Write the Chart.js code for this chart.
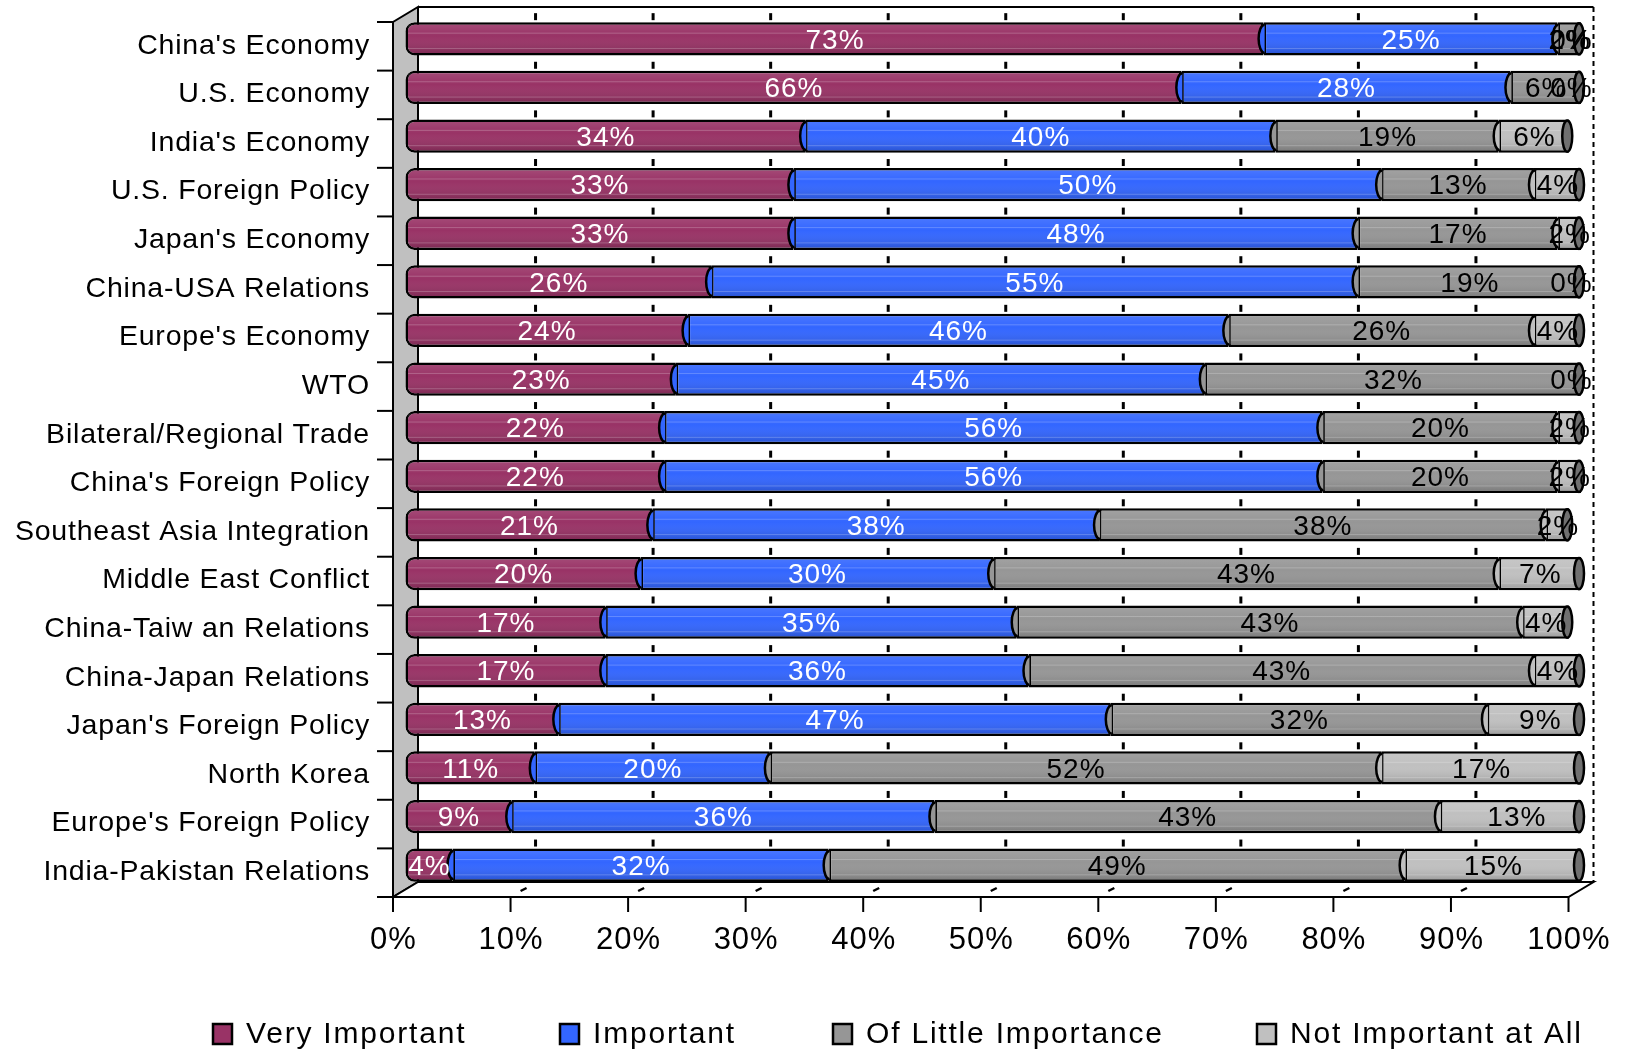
<!DOCTYPE html>
<html>
<head>
<meta charset="utf-8">
<title>Importance of issues</title>
<script src="https://cdn.jsdelivr.net/npm/chart.js@4.4.0/dist/chart.umd.min.js"></script>
<style>
    html, body { margin: 0; padding: 0; background: #fff; }
    #wrap { width: 1626px; height: 1050px; position: relative; }
</style>
</head>
<body>
<div id="wrap"><canvas id="myChart"></canvas></div>
<script>
var categories = [
    "China's Economy", "U.S. Economy", "India's Economy", "U.S. Foreign Policy",
    "Japan's Economy", "China-USA Relations", "Europe's Economy", "WTO",
    "Bilateral/Regional Trade", "China's Foreign Policy", "Southeast Asia Integration",
    "Middle East Conflict", "China-Taiw an Relations", "China-Japan Relations",
    "Japan's Foreign Policy", "North Korea", "Europe's Foreign Policy", "India-Pakistan Relations"
];
var veryImportant    = [73, 66, 34, 33, 33, 26, 24, 23, 22, 22, 21, 20, 17, 17, 13, 11, 9, 4];
var important        = [25, 28, 40, 50, 48, 55, 46, 45, 56, 56, 38, 30, 35, 36, 47, 20, 36, 32];
var littleImportance = [2, 6, 19, 13, 17, 19, 26, 32, 20, 20, 38, 43, 43, 43, 32, 52, 43, 49];
var notImportant     = [0, 0, 6, 4, 2, 0, 4, 0, 2, 2, 2, 7, 4, 4, 9, 17, 13, 15];
var seriesNames  = ["Very Important", "Important", "Of Little Importance", "Not Important at All"];
var seriesColors = ["#993366", "#3366FF", "#969696", "#C0C0C0"];
var labelColors  = ["#ffffff", "#ffffff", "#000000", "#000000"];
var xTicks = [0, 10, 20, 30, 40, 50, 60, 70, 80, 90, 100];

// half of the 3-D depth: bars sit in the middle, walls are pushed back, axes pulled forward
var DX = 12.5, DY = 7.5;
var BORDER = 2.5;
var FONT = "'Liberation Sans', Arial, sans-serif";

function drawText(ctx, text, x, y, size, color, align, spacing) {
    ctx.save();
    ctx.font = size + "px " + FONT;
    ctx.fillStyle = color;
    ctx.textAlign = align;
    ctx.textBaseline = "middle";
    ctx.letterSpacing = (spacing || 0) + "px";
    if (align === "center") x += (spacing || 0) / 2;
    ctx.fillText(text, x, y);
    ctx.restore();
}

function line(ctx, x1, y1, x2, y2) {
    ctx.beginPath();
    ctx.moveTo(x1, y1);
    ctx.lineTo(x2, y2);
    ctx.stroke();
}

var boxPlugin = {
    id: "box3d",
    beforeDatasetsDraw: function(chart) {
        var ctx = chart.ctx, xs = chart.scales.x, ys = chart.scales.y, a = chart.chartArea;
        var fl = a.left - DX, fr = a.right - DX, ft = a.top + DY, fb = a.bottom + DY;
        var bl = a.left + DX, br = a.right + DX, bt = a.top - DY, bb = a.bottom - DY;
        ctx.save();
        ctx.strokeStyle = "#000";
        ctx.lineWidth = 2;

        // left wall
        ctx.fillStyle = "#c0c0c0";
        ctx.beginPath();
        ctx.moveTo(fl, ft); ctx.lineTo(fl, fb); ctx.lineTo(bl, bb); ctx.lineTo(bl, bt);
        ctx.closePath();
        ctx.fill(); ctx.stroke();

        // floor
        ctx.fillStyle = "#fff";
        ctx.beginPath();
        ctx.moveTo(fl, fb); ctx.lineTo(fr, fb); ctx.lineTo(br, bb); ctx.lineTo(bl, bb);
        ctx.closePath();
        ctx.fill(); ctx.stroke();

        // back wall frame
        line(ctx, bl, bt, br, bt);
        ctx.setLineDash([5, 4]);
        line(ctx, br, bt, br, bb);
        ctx.setLineDash([]);

        // gridlines on the back wall, only showing in the gaps above each bar
        var bar0 = chart.getDatasetMeta(0).data;
        xTicks.forEach(function(v) {
            if (v === 0 || v === 100) return;
            var gx = xs.getPixelForValue(v) + DX;
            ctx.lineWidth = 3;
            bar0.forEach(function(b) {
                var top = b.y - b.height / 2;
                line(ctx, gx, top - 9, gx, top - 2);
            });
            // short floor dashes
            var fx = xs.getPixelForValue(v) - DX;
            ctx.lineWidth = 2.5;
            line(ctx, fx + 10, fb - 6, fx + 16, fb - 9);
        });

        // front x axis ticks and labels
        ctx.lineWidth = 2;
        xTicks.forEach(function(v) {
            var tx = xs.getPixelForValue(v) - DX;
            line(ctx, tx, fb, tx, fb + 15);
            drawText(ctx, v + "%", tx, fb + 43, 31, "#000", "center", 1);
        });

        // category ticks and labels on the front left edge
        var step = ys.getPixelForValue(1) - ys.getPixelForValue(0);
        for (var k = 0; k <= categories.length; k++) {
            var ty = ys.getPixelForValue(k) - step / 2 + DY;
            line(ctx, fl - 16, ty, fl, ty);
        }
        categories.forEach(function(c, i) {
            drawText(ctx, c, fl - 23, ys.getPixelForValue(i) + DY - 0.5, 28.5, "#000", "right", 0.8);
        });
        ctx.restore();
    },
    afterDatasetsDraw: function(chart) {
        var ctx = chart.ctx, xs = chart.scales.x, a = chart.chartArea;
        var series = [veryImportant, important, littleImportance, notImportant];
        ctx.save();

        // cylinder shading over each segment, kept inside the outline
        series.forEach(function(vals, i) {
            chart.getDatasetMeta(i).data.forEach(function(b) {
                var x1 = Math.min(b.base, b.x) + BORDER;
                var x2 = Math.min(Math.max(b.base, b.x), a.right) - BORDER;
                if (x2 - x1 < 1) return;
                var top = b.y - b.height / 2 + BORDER, bot = b.y + b.height / 2 - BORDER;
                var g = ctx.createLinearGradient(0, top, 0, bot);
                g.addColorStop(0, "rgba(255,255,255,0.10)");
                g.addColorStop(0.4, "rgba(255,255,255,0)");
                g.addColorStop(1, "rgba(0,0,0,0.16)");
                ctx.fillStyle = g;
                ctx.fillRect(x1, top, x2 - x1, bot - top);
                ctx.fillStyle = "rgba(255,255,255,0.22)";
                ctx.fillRect(x1, top + 8, x2 - x1, 1);
                ctx.fillRect(x1, bot - 5, x2 - x1, 1);
            });
        });

        // rounded left face where each segment starts
        ctx.strokeStyle = "#000";
        ctx.lineWidth = BORDER;
        series.forEach(function(vals, i) {
            if (i === 0) return;
            chart.getDatasetMeta(i).data.forEach(function(b, j) {
                if (vals[j] <= 0) return;
                var ry = b.height / 2 - BORDER;
                ctx.fillStyle = seriesColors[i];
                ctx.beginPath();
                ctx.ellipse(b.base + 1, b.y, 6, ry, 0, Math.PI / 2, Math.PI * 1.5);
                ctx.closePath();
                ctx.fill();
                ctx.beginPath();
                ctx.ellipse(b.base + 1, b.y, 6, ry, 0, Math.PI / 2, Math.PI * 1.5);
                ctx.stroke();
            });
        });

        // dark end cap on the right of each row
        var bars = chart.getDatasetMeta(0).data;
        bars.forEach(function(b, j) {
            var total = 0;
            series.forEach(function(vals) { total += vals[j]; });
            var ex = Math.min(xs.getPixelForValue(total), a.right);
            ctx.fillStyle = "#707070";
            ctx.beginPath();
            ctx.ellipse(ex - 2, b.y, 5, b.height / 2 - 1, 0, 0, Math.PI * 2);
            ctx.fill();
            ctx.stroke();
        });

        // value labels
        series.forEach(function(vals, i) {
            chart.getDatasetMeta(i).data.forEach(function(b, j) {
                var cx = Math.min((b.base + b.x) / 2, a.right - 10);
                drawText(ctx, vals[j] + "%", cx, b.y + 2, 28, labelColors[i], "center", 1);
            });
        });
        ctx.restore();
    },
    afterDraw: function(chart) {
        // legend along the bottom
        var ctx = chart.ctx;
        var textX = [246, 593, 866, 1290];
        var ly = 1034;
        ctx.save();
        seriesNames.forEach(function(name, i) {
            var bx = textX[i] - 33;
            ctx.fillStyle = seriesColors[i];
            ctx.fillRect(bx, ly - 10, 19, 20);
            ctx.strokeStyle = "#000";
            ctx.lineWidth = 2.5;
            ctx.strokeRect(bx, ly - 10, 19, 20);
            drawText(ctx, name, textX[i], ly + 1, 30, "#000", "left", 1.8);
        });
        ctx.restore();
    }
};

function makeDataset(i, vals) {
    return {
        label: seriesNames[i],
        data: vals,
        backgroundColor: seriesColors[i],
        borderColor: "#000",
        borderWidth: BORDER,
        borderSkipped: false,
        borderRadius: i === 0 ? { topLeft: 9, bottomLeft: 9, topRight: 0, bottomRight: 0 } : 0,
        barPercentage: 0.685,
        categoryPercentage: 1,
        clip: { left: 30, top: 30, right: 0, bottom: 30 }
    };
}

document.addEventListener("DOMContentLoaded", function() {
    var ctx = document.getElementById("myChart").getContext("2d");
    new Chart(ctx, {
        type: "bar",
        data: {
            labels: categories,
            datasets: [
                makeDataset(0, veryImportant),
                makeDataset(1, important),
                makeDataset(2, littleImportance),
                makeDataset(3, notImportant)
            ]
        },
        options: {
            indexAxis: "y",
            responsive: true,
            maintainAspectRatio: false,
            animation: false,
            layout: { padding: { left: 405.5, right: 45, top: 14.5, bottom: 160.5 } },
            scales: {
                x: { display: false, stacked: true, min: 0, max: 100 },
                y: { display: false, stacked: true }
            },
            plugins: {
                legend: { display: false },
                tooltip: { enabled: false }
            }
        },
        plugins: [boxPlugin]
    });
});
</script>
</body>
</html>
